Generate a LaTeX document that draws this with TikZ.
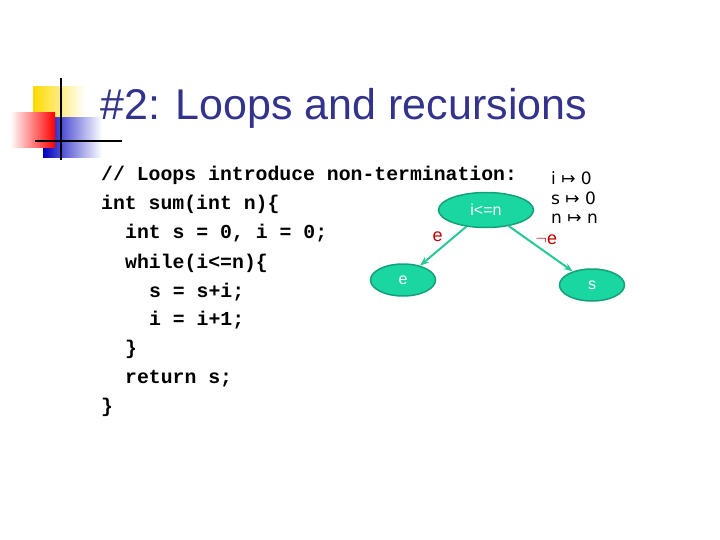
\documentclass[tikz,border=0pt]{standalone}
\usepackage{fontspec}
\setmainfont{Liberation Sans}
\setmonofont{Liberation Mono}
\newfontfamily\symfont{DejaVu Sans}
\usetikzlibrary{shapes.geometric,arrows.meta,positioning}
\definecolor{titleblue}{RGB}{51,51,140}
\definecolor{nodegreen}{RGB}{26,214,160}
\definecolor{edgegreen}{RGB}{40,200,150}
\tikzset{
  cfgnode/.style={ellipse,draw=nodegreen!75!black,line width=1.5pt,fill=nodegreen,text=white,
    font=\fontsize{16}{16}\selectfont,minimum width=65pt,minimum height=32pt,inner sep=0pt},
  cfgedge/.style={draw=edgegreen,line width=2pt,-{Stealth[length=9pt]}},
  elabel/.style={text=red!75!black,font=\fontsize{18}{18}\selectfont},
  codeline/.style={anchor=base west,inner sep=0pt,font=\ttfamily\bfseries\fontsize{19.8}{20}\selectfont},
  envline/.style={anchor=west,inner sep=0pt,font=\symfont\fontsize{17}{17}\selectfont}
}
\begin{document}
\begin{tikzpicture}[x=1pt,y=-1pt]
\useasboundingbox (0,0) rectangle (720,540);
% corner decoration
\shade[left color=yellow!70!orange,right color=white] (33,87) rectangle (85,130);
\shade[left color=blue!75!black,right color=white] (43,118) rectangle (102,158);
\shade[left color=white,right color=red] (10,113) rectangle (55,148);
\draw[line width=2pt] (61,78) -- (61,160);
\draw[line width=2pt] (35,141) -- (122,141);
% title
\node[anchor=base west,inner sep=0pt,text=titleblue,font=\fontsize{43}{43}\selectfont] (title) at (100,120) {\#2: Loops and recursions};
% code
\node[codeline] (c1) at (101,181) {// Loops introduce non-termination:};
\node[codeline] (c2) at (101,210) {int sum(int n)\{};
\node[codeline] (c3) at (125,239) {int s = 0, i = 0;};
\node[codeline] (c4) at (125,268) {while(i<=n)\{};
\node[codeline] (c5) at (149,297) {s = s+i;};
\node[codeline] (c6) at (149,325) {i = i+1;};
\node[codeline] (c7) at (125,354) {\}};
\node[codeline] (c8) at (125,383) {return s;};
\node[codeline] (c9) at (101,412) {\}};
% graph
\node[cfgnode,minimum width=95pt,minimum height=35pt] (cond) at (486,210) {i<=n};
\node[cfgnode] (body) at (403,280) {e};
\node[cfgnode] (exit) at (592,285) {s};
\draw[cfgedge] (cond) -- (body) node[elabel,pos=0.45,above left=-2pt] {e};
\draw[cfgedge] (cond) -- (exit) node[elabel,pos=0.42,above right=-6pt] {$\neg$e};
% environment
\node[envline] (envi) at (551,178) {i ↦ 0};
\node[envline] (envs) at (551,198) {s ↦ 0};
\node[envline] (envn) at (551,219) {n ↦ n};
\end{tikzpicture}
\end{document}
